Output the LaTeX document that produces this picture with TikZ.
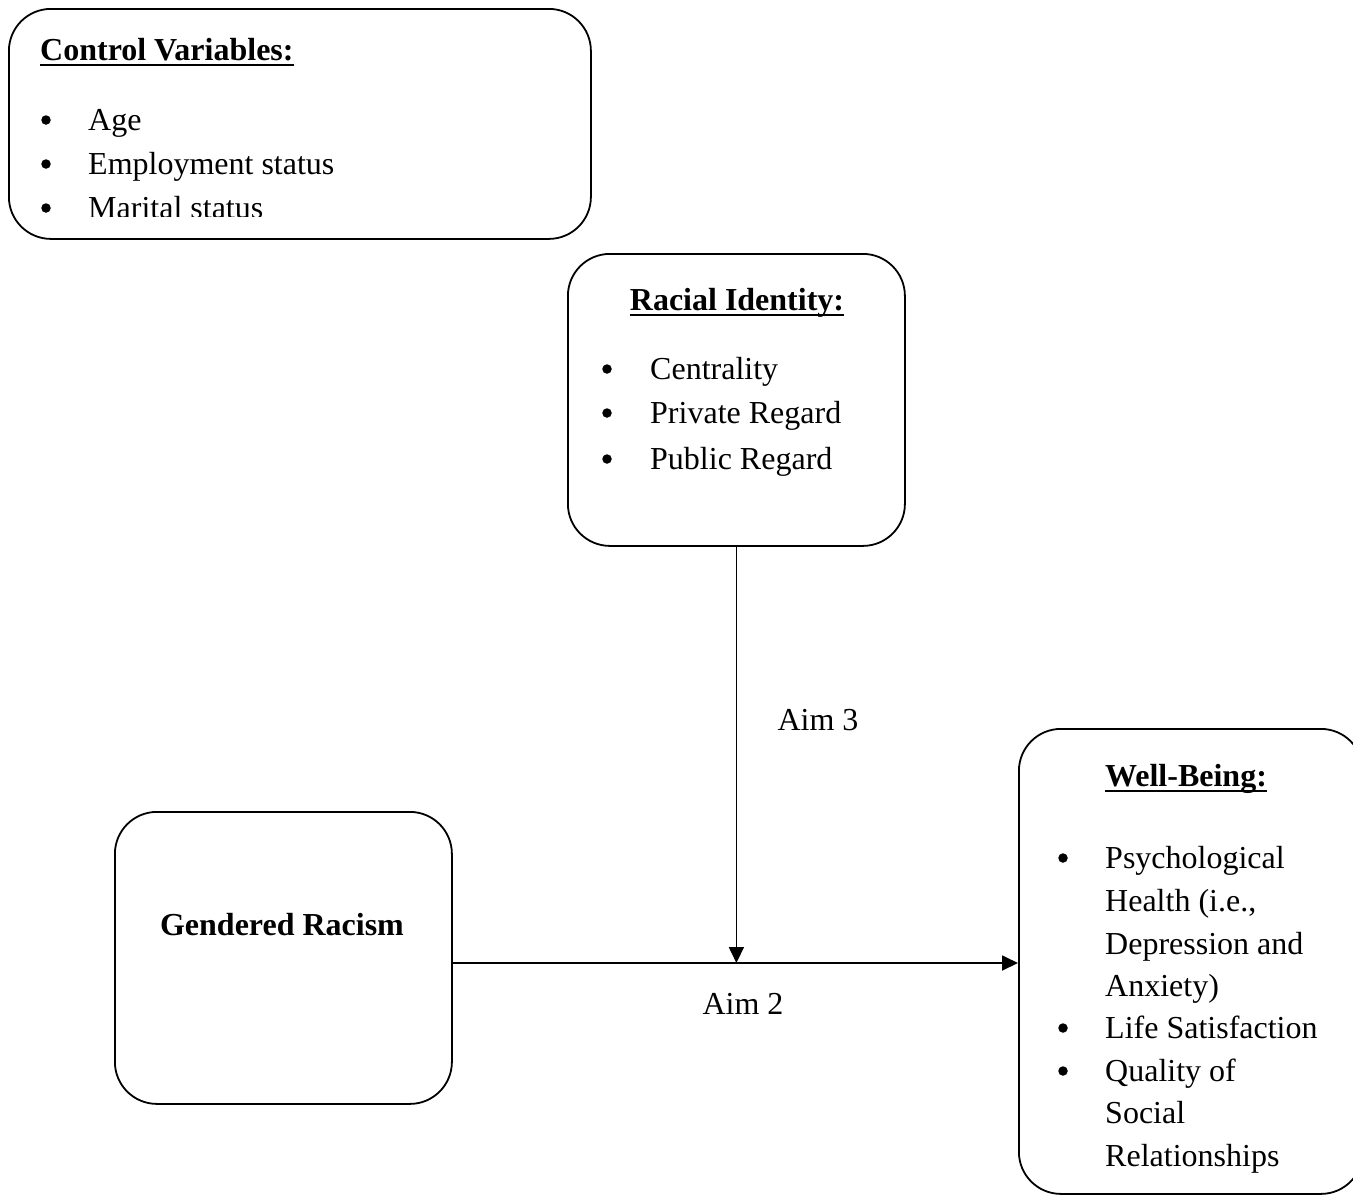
\documentclass[tikz,border=0pt]{standalone}
\usepackage{fontspec}
\setmainfont{Liberation Serif}
\usetikzlibrary{arrows.meta}
\begin{document}
\begin{tikzpicture}[x=1pt,y=-1pt,
  box/.style={draw,line width=1.8pt,rounded corners=42pt,anchor=north west,inner sep=0pt},
  txt/.style={inner sep=0pt,anchor=base west,font=\fontsize{32}{44}\selectfont},
  ttl/.style={inner sep=0pt,anchor=base,font=\fontsize{32}{44}\selectfont\bfseries},
  bul/.style={circle,fill,inner sep=0pt,minimum size=9.5pt},
  conn/.style={line width=1.8pt,-{Triangle[length=16pt,width=15pt]}},
  uline/.style={line width=2.6pt}]
\clip (0,0) rectangle (1353,1195);
% boxes
\node[box,minimum width=582pt,minimum height=230pt] (cv) at (8,8) {};
\node[box,minimum width=337pt,minimum height=292pt] (rid) at (567,253) {};
\node[box,minimum width=337pt,minimum height=292pt] (gr) at (114,811) {};
\node[box,minimum width=344pt,minimum height=465pt] (wb) at (1018,728) {};
% control variables
\node[ttl,anchor=base west] (cvt) at (40,60) {Control Variables:};
\draw[uline] ([yshift=-5pt]cvt.base west) -- ([yshift=-5pt]cvt.base east);
\node[bul] (cb1) at (46,120) {};
\node[txt] (c1) at (88,130) {Age};
\node[bul] (cb2) at (46,164) {};
\node[txt] (c2) at (88,174) {Employment status};
\begin{scope}
\clip (0,0) rectangle (600,216);
\node[bul] (cb3) at (46,208) {};
\node[txt] (c3) at (88,218) {Marital status};
\end{scope}
% racial identity
\node[ttl] (rt) at (737,310) {Racial Identity:};
\draw[uline] ([yshift=-5pt]rt.base west) -- ([yshift=-5pt]rt.base east);
\node[bul] (rb1) at (607,369) {};
\node[txt] (r1) at (650,379) {Centrality};
\node[bul] (rb2) at (607,413) {};
\node[txt] (r2) at (650,423) {Private Regard};
\node[bul] (rb3) at (607,459) {};
\node[txt] (r3) at (650,469) {Public Regard};
% gendered racism
\node[ttl] (gt) at (282,935) {Gendered Racism};
% well-being
\node[ttl] (wt) at (1186,786) {Well-Being:};
\draw[uline] ([yshift=-5pt]wt.base west) -- ([yshift=-5pt]wt.base east);
\node[bul] (wb1) at (1063,858) {};
\node[txt] (w1) at (1105,868) {Psychological};
\node[txt] (w2) at (1105,911) {Health (i.e.,};
\node[txt] (w3) at (1105,954) {Depression and};
\node[txt] (w4) at (1105,996) {Anxiety)};
\node[bul] (wb2) at (1063,1028) {};
\node[txt] (w5) at (1105,1038) {Life Satisfaction};
\node[bul] (wb3) at (1063,1071) {};
\node[txt] (w6) at (1105,1081) {Quality of};
\node[txt] (w7) at (1105,1123) {Social};
\node[txt] (w8) at (1105,1166) {Relationships};
% connectors
\coordinate (j) at (735.5,963);
\draw[conn] (gr.east |- j) -- (wb.west |- j);
\draw[conn] (rid.south) -- (rid.south |- j);
\node[txt,anchor=center] (a3) at (818,720) {Aim 3};
\node[txt,anchor=center] (a2) at (743,1004) {Aim 2};
\end{tikzpicture}
\end{document}
